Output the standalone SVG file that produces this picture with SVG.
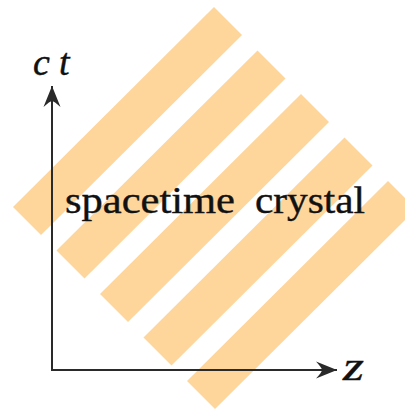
<svg xmlns="http://www.w3.org/2000/svg" width="405" height="411" viewBox="0 0 405 411">
<style>
.stripe{fill:#FED59B;}
.axis{stroke:#2a2a2a;stroke-width:2;fill:none;}
.math{font-family:"Liberation Serif","Times New Roman",serif;font-style:italic;fill:#111;stroke:#111;stroke-width:0.4;}
.label{font-family:"Liberation Serif","Times New Roman",serif;font-size:38px;fill:#111;stroke:#111;stroke-width:0.4;}
</style>
<defs>
<marker id="arr" markerUnits="userSpaceOnUse" markerWidth="24" markerHeight="20" viewBox="-22 -10 24 20" refX="0" refY="0" orient="auto">
<path d="M0,0 L-21,-8.5 Q-15,-2 -15,0 Q-15,2 -21,8.5 Z" fill="#2a2a2a"/>
</marker>
</defs>
<g id="crystal">
<polygon class="stripe" points="13,207 214,7 242,35 41,235"/>
<polygon class="stripe" points="56.5,250.5 257.5,50.5 285.5,78.5 84.5,278.5"/>
<polygon class="stripe" points="100,294 301,94 329,122 128,322"/>
<polygon class="stripe" points="143.5,337.5 344.5,137.5 372.5,165.5 171.5,365.5"/>
<polygon class="stripe" points="187,381 388,181 416,209 215,409"/>
</g>
<g id="axes">
<path class="axis" d="M52,370 L52,86" marker-end="url(#arr)"/>
<path class="axis" d="M51,370 L337,370" marker-end="url(#arr)"/>
</g>
<g id="ct-label">
<text class="math" x="33" y="75" font-size="38">c</text>
<text class="math" x="59" y="75" font-size="38">t</text>
</g>
<g id="z-label">
<text class="math" x="343" y="380" font-size="40" textLength="21" lengthAdjust="spacingAndGlyphs">z</text>
</g>
<g id="title">
<text class="label" x="65" y="213" textLength="170" lengthAdjust="spacingAndGlyphs">spacetime</text>
<text class="label" x="255" y="213" textLength="110" lengthAdjust="spacingAndGlyphs">crystal</text>
</g>
</svg>
